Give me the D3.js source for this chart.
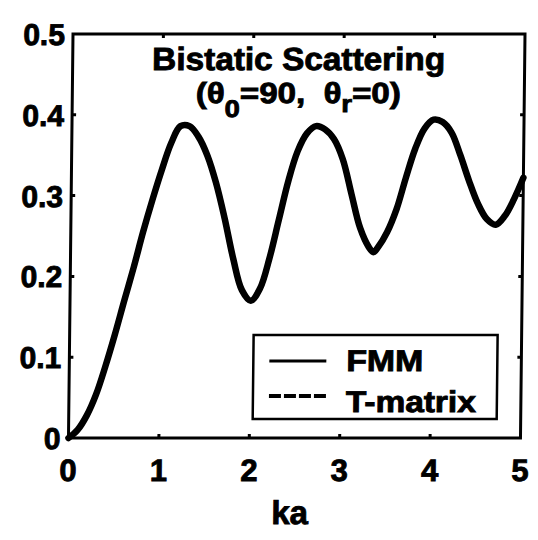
<!DOCTYPE html>
<html><head><meta charset="utf-8">
<script src="https://cdn.jsdelivr.net/npm/d3@7"></script>
<style>
html,body{margin:0;padding:0;background:#fff;}
svg text{font-family:"Liberation Sans",Arial,Helvetica,sans-serif;font-weight:bold;fill:#000;stroke:#000;stroke-width:0.9px;}
</style></head>
<body>
<svg id="chart" width="538" height="540"></svg>
<script>
const ka = [0,0.1,0.2,0.3,0.4,0.5,0.6,0.7,0.8,0.9,1.0,1.1,1.2,1.3,1.4,1.5,1.6,1.7,1.8,1.9,2.0,2.1,2.2,2.3,2.4,2.5,2.6,2.7,2.8,2.9,3.0,3.1,3.2,3.3,3.35,3.4,3.5,3.6,3.7,3.8,3.9,4.0,4.1,4.2,4.3,4.4,4.5,4.6,4.7,4.8,4.9,5.0];
const fmm = [0,0.01,0.028,0.054,0.089,0.128,0.17,0.211,0.255,0.295,0.332,0.365,0.386,0.386,0.373,0.350,0.316,0.272,0.222,0.183,0.170,0.185,0.222,0.27,0.318,0.355,0.377,0.386,0.382,0.37,0.345,0.302,0.26,0.236,0.230,0.236,0.255,0.283,0.322,0.358,0.383,0.394,0.391,0.378,0.35,0.318,0.29,0.271,0.264,0.275,0.296,0.322];
const tmatrix = [0,0.01,0.028,0.054,0.089,0.128,0.17,0.211,0.255,0.295,0.332,0.365,0.386,0.386,0.373,0.350,0.316,0.272,0.222,0.183,0.170,0.185,0.222,0.27,0.318,0.355,0.377,0.386,0.382,0.37,0.345,0.302,0.26,0.236,0.230,0.236,0.255,0.283,0.322,0.358,0.383,0.394,0.391,0.378,0.35,0.318,0.29,0.271,0.264,0.275,0.296,0.322];
const xTicks = [0,1,2,3,4,5];
const yTicks = [0,0.1,0.2,0.3,0.4,0.5];
const yTickLabels = ["0","0.1","0.2","0.3","0.4","0.5"];
const seriesNames = ["FMM","T-matrix"];
const xLabel = "ka";
const titleLine1 = "Bistatic Scattering";

const L = 73, R = 525, T = 34, B = 438;
const x = d3.scaleLinear().domain([0,5]).range([L,R]);
const y = d3.scaleLinear().domain([0,0.5]).range([B,T]);

const svg = d3.select("#chart");
const g = svg.append("g").attr("transform","matrix(1,0,-0.0112,1,0.38,0)");

// curves
const line = d3.line().x((d,i)=>x(ka[i])).y(d=>y(d)).curve(d3.curveCatmullRom.alpha(0.5));
g.append("path").attr("d",line(fmm)).attr("fill","none").attr("stroke","#000").attr("stroke-width",6.5).attr("stroke-linejoin","round").attr("stroke-linecap","round");
g.append("path").attr("d",line(tmatrix)).attr("fill","none").attr("stroke","#000").attr("stroke-width",5).attr("stroke-dasharray","12,3");

// frame
g.append("rect").attr("x",L).attr("y",T).attr("width",R-L).attr("height",B-T).attr("fill","none").attr("stroke","#000").attr("stroke-width",3);

// ticks
const tl = 4;
xTicks.slice(1,-1).forEach(t=>{
  g.append("line").attr("x1",x(t)).attr("x2",x(t)).attr("y1",B).attr("y2",B-tl).attr("stroke","#000").attr("stroke-width",3);
  g.append("line").attr("x1",x(t)).attr("x2",x(t)).attr("y1",T).attr("y2",T+tl).attr("stroke","#000").attr("stroke-width",3);
});
yTicks.slice(1,-1).forEach(t=>{
  g.append("line").attr("x1",L).attr("x2",L+tl).attr("y1",y(t)).attr("y2",y(t)).attr("stroke","#000").attr("stroke-width",3);
  g.append("line").attr("x1",R).attr("x2",R-tl).attr("y1",y(t)).attr("y2",y(t)).attr("stroke","#000").attr("stroke-width",3);
});

// tick labels
g.selectAll(".xt").data(xTicks).enter().append("text")
  .attr("x",d=>x(d)).attr("y",B+43).attr("text-anchor","middle").attr("font-size",31).text(d=>d);
g.selectAll(".yt").data(yTicks).enter().append("text")
  .attr("x",L-8).attr("y",d=>y(d)+11).attr("text-anchor","end").attr("font-size",30).text((d,i)=>yTickLabels[i]);

// x label
g.append("text").attr("x",(L+R)/2-4).attr("y",524).attr("text-anchor","middle").attr("font-size",33).text(xLabel);

// title
const cx = (L+R)/2;
g.append("text").attr("x",cx).attr("y",70).attr("text-anchor","middle").attr("font-size",32)
  .attr("textLength",293).attr("lengthAdjust","spacingAndGlyphs").text(titleLine1);
const t2 = g.append("text").attr("x",cx).attr("y",103).attr("text-anchor","middle").attr("font-size",29)
  .attr("textLength",205).attr("lengthAdjust","spacingAndGlyphs");
t2.append("tspan").text("(\u03B8");
t2.append("tspan").attr("font-size",24).attr("dy",14).text("0");
t2.append("tspan").attr("dy",-14).text("=90,\u00A0\u00A0\u03B8");
t2.append("tspan").attr("font-size",24).attr("dy",9).text("r");
t2.append("tspan").attr("dy",-9).text("=0)");

// legend
g.append("rect").attr("x",257).attr("y",335).attr("width",244).attr("height",84).attr("fill","#fff").attr("stroke","#000").attr("stroke-width",2.5);
g.append("line").attr("x1",273).attr("x2",330).attr("y1",361).attr("y2",361).attr("stroke","#000").attr("stroke-width",3);
g.append("line").attr("x1",273).attr("x2",332).attr("y1",396).attr("y2",396).attr("stroke","#000").attr("stroke-width",4).attr("stroke-dasharray","12,3");
g.append("text").attr("x",350).attr("y",371).attr("font-size",30).attr("textLength",77).attr("lengthAdjust","spacingAndGlyphs").text(seriesNames[0]);
g.append("text").attr("x",350).attr("y",412).attr("font-size",30).attr("textLength",130).attr("lengthAdjust","spacingAndGlyphs").text(seriesNames[1]);
</script>
</body></html>
